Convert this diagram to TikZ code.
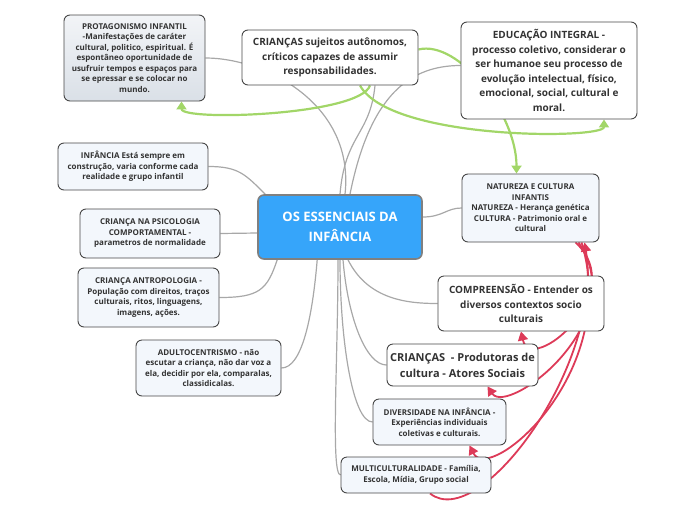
\documentclass[tikz,border=0pt]{standalone}
\usepackage{fontspec}
\setmainfont{Open Sans}
\usetikzlibrary{arrows.meta,backgrounds}
\definecolor{mapblue}{RGB}{54,165,250}
\definecolor{linkgray}{RGB}{168,168,168}
\definecolor{relgreen}{RGB}{162,214,104}
\definecolor{relred}{RGB}{221,58,88}
\definecolor{notefill}{RGB}{243,247,252}
\definecolor{protop}{RGB}{242,244,247}
\definecolor{probot}{RGB}{218,224,231}

\begin{document}
\begin{tikzpicture}[x=1pt,y=-1pt,
  topic/.style={draw=black!72,line width=0.9pt,rounded corners=6pt,fill=white,
    text=black!80,align=center,inner sep=2pt,font=\bfseries\fontsize{10}{14.5}\selectfont},
  note/.style={topic,fill=notefill,font=\bfseries\fontsize{8}{10.5}\selectfont},
  link/.style={linkgray,line width=1.2pt},
  relgo/.style={-{Triangle[length=8pt,width=10pt]},relgreen,line width=2.2pt},
  relstop/.style={-{Triangle[length=9pt,width=10pt]},relred,line width=1.8pt}]
\useasboundingbox (0,0) rectangle (696,520);
% main topic
\node[topic,fill=mapblue,draw=black!50,line width=1.6pt,text=white,
  font=\bfseries\fontsize{13}{20}\selectfont,minimum width=164pt,minimum height=64pt]
  (ctr) at (340,227) {OS ESSENCIAIS DA\\INFÂNCIA};
% top
\node[note,top color=protop,bottom color=probot,minimum width=141pt,minimum height=86pt]
  (protag) at (134.5,58) {PROTAGONISMO INFANTIL\\-Manifestações de caráter\\cultural, politico, espiritual. É\\espontâneo oportunidade de\\usufruir tempos e espaços para\\se epressar e se colocar no\\mundo.};
\node[topic,minimum width=176pt,minimum height=55pt] (kids) at (330,57.5)
  {CRIANÇAS sujeitos autônomos,\\críticos capazes de assumir\\responsabilidades.};
\node[topic,minimum width=176pt,minimum height=97pt] (edu) at (549,70.5)
  {EDUCAÇÃO INTEGRAL -\\processo coletivo, considerar o\\ser humanoe seu processo de\\evolução intelectual, físico,\\emocional, social, cultural e\\moral.};
% left
\node[note,minimum width=150pt,minimum height=47pt] (inf) at (133,166.5)
  {INFÂNCIA Está sempre em\\construção, varia conforme cada\\realidade e grupo infantil};
\node[note,minimum width=140pt,minimum height=49pt] (psy) at (150,233.5)
  {CRIANÇA NA PSICOLOGIA\\COMPORTAMENTAL -\\parametros de normalidade};
\node[note,minimum width=141pt,minimum height=59pt] (anthro) at (148.5,297.5)
  {CRIANÇA ANTROPOLOGIA -\\População com direitos, traços\\culturais, ritos, linguagens,\\imagens, ações.};
\node[note,minimum width=145pt,minimum height=56pt] (adult) at (208.5,368)
  {ADULTOCENTRISMO - não\\escutar a criança, não dar voz a\\ela, decidir por ela, comparalas,\\classidicalas.};
% right
\node[note,minimum width=137pt,minimum height=68pt] (nat) at (530.5,208)
  {NATUREZA E CULTURA\\INFANTIS\\NATUREZA - Herança genética\\CULTURA - Patrimonio oral e\\cultural};
\node[topic,minimum width=166pt,minimum height=55pt] (comp) at (521,303.5)
  {COMPREENSÃO - Entender os\\diversos contextos socio\\culturais};
\node[topic,font=\bfseries\fontsize{11}{16}\selectfont,minimum width=151pt,minimum height=42pt]
  (prod) at (462.5,365) {CRIANÇAS\ \ - Produtoras de\\cultura - Atores Sociais};
\node[note,minimum width=133pt,minimum height=46pt] (div) at (439.5,422)
  {DIVERSIDADE NA INFÂNCIA\ -\\Experiências individuais\\coletivas e culturais.};
\node[note,minimum width=150pt,minimum height=36pt] (multi) at (416,475)
  {MULTICULTURALIDADE - Família,\\Escola, Mídia, Grupo social};

\begin{pgfonlayer}{background}
% branches
\draw[link] (ctr.north) .. controls +(5,-60) and +(-5,50) .. ([xshift=45pt]kids.south);
\draw[link] ([xshift=5pt]ctr.north) .. controls +(10,-90) and +(60,0) .. (protag.east);
\draw[link] ([xshift=10pt]ctr.north) .. controls +(20,-100) and +(-50,0) .. ([yshift=5pt]edu.west);
\draw[link] ([xshift=8pt]ctr.north west) .. controls +(-20,-20) and +(30,0) .. (inf.east);
\draw[link] ([yshift=-6pt]ctr.west) -- (psy.east);
\draw[link] ([xshift=20pt]ctr.south west) .. controls +(-10,30) and +(40,0) .. (anthro.east);
\draw[link] ([xshift=60pt]ctr.south west) .. controls +(-5,60) and +(20,0) .. (adult.east);
\draw[link] ([xshift=-2pt]ctr.south) .. controls +(0,100) and +(-10,0) .. (multi.west);
\draw[link] (ctr.south) .. controls +(0,80) and +(-20,0) .. (div.west);
\draw[link] ([xshift=3pt]ctr.south) .. controls +(5,60) and +(-20,0) .. (prod.west);
\draw[link] ([xshift=8pt]ctr.south) .. controls +(20,40) and +(-30,0) .. (comp.west);
\draw[link] ([yshift=10pt]ctr.east) .. controls +(20,0) and +(-15,0) .. (nat.west);
% relations
\draw[relgo] ([yshift=8pt]kids.east) .. controls +(40,-10) and +(0,-60) .. ([xshift=-14pt]nat.north);
\draw[relgo] ([xshift=30pt]kids.south) .. controls +(30,55) and +(0,20) .. ([xshift=55pt]edu.south);
\draw[relgo] ([xshift=40pt]kids.south) .. controls +(-10,30) and +(0,20) .. ([xshift=47pt]protag.south);
\draw[relstop] ([xshift=45pt]nat.south) .. controls +(55,50) and +(10,45) .. (comp.south);
\draw[relstop] ([xshift=48pt]nat.south) .. controls +(55,80) and +(20,30) .. ([xshift=25pt]prod.south);
\draw[relstop] ([xshift=51pt]nat.south) .. controls +(40,130) and +(20,40) .. ([xshift=30pt]div.south);
\draw[relstop] ([xshift=14pt]multi.south) .. controls +(50,40) and +(20,120) .. ([xshift=54pt]nat.south);
\end{pgfonlayer}
\end{tikzpicture}
\end{document}
